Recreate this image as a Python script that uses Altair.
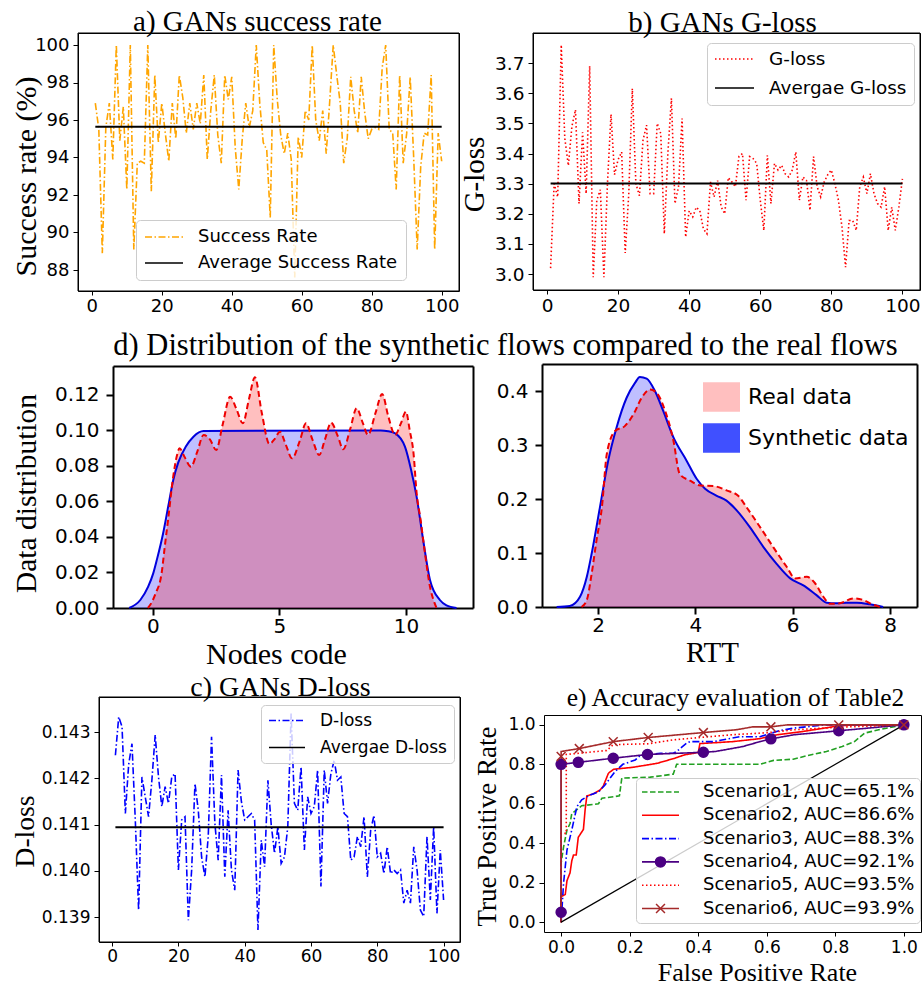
import altair as alt
import pandas as pd

W, H = 924, 985
SERIF = "Liberation Serif"
SANS = "DejaVu Sans"

# ---------------------------------------------------------------- data
epochs = list(range(1, 101))

success_rate = [
    96.9, 95.5, 88.9, 95.6, 96.9, 93.9, 100, 94.9, 96.7, 92.3,
    100, 89.1, 93.7, 93.8, 93.7, 100, 92.2, 98.4, 94.8, 96.9,
    95.3, 93.8, 96.9, 95.0, 98.4, 97.2, 95.3, 96.9, 95.5, 96.9,
    95.8, 98.4, 93.9, 96.5, 98.4, 95.2, 93.7, 98.4, 97.1, 98.3,
    94.5, 92.3, 95.0, 96.9, 95.6, 96.5, 100, 96.9, 94.8, 94.4,
    90.8, 100, 97.1, 95.2, 94.2, 95.3, 93.9, 87.6, 95.1, 94.0,
    96.5, 96.0, 100, 96.0, 94.9, 96.5, 94.2, 97.0, 100, 98.4,
    96.9, 93.7, 95.0, 98.3, 96.5, 95.3, 98.3, 96.4, 95.0, 95.5,
    95.6, 95.5, 98.8, 100, 95.5, 95.3, 92.3, 98.4, 93.7, 95.3,
    98.3, 94.0, 89.1, 93.5, 95.3, 95.2, 98.4, 89.1, 95.3, 93.8,
]

g_loss = [
    3.02, 3.30, 3.256, 3.76, 3.45, 3.36, 3.49, 3.545, 3.234, 3.47,
    3.267, 3.69, 2.99, 3.245, 3.28, 2.99, 3.30, 3.53, 3.33, 3.38,
    3.405, 3.07, 3.267, 3.615, 3.30, 3.26, 3.444, 3.494, 3.267, 3.267,
    3.50, 3.466, 3.134, 3.40, 3.583, 3.234, 3.29, 3.516, 3.123, 3.21,
    3.19, 3.222, 3.21, 3.15, 3.134, 3.306, 3.256, 3.31, 3.223, 3.20,
    3.32, 3.306, 3.29, 3.39, 3.40, 3.245, 3.39, 3.383, 3.367, 3.245,
    3.145, 3.394, 3.234, 3.367, 3.345, 3.361, 3.333, 3.322, 3.345, 3.405,
    3.245, 3.322, 3.311, 3.212, 3.39, 3.29, 3.256, 3.306, 3.33, 3.345,
    3.30, 3.245, 3.156, 3.023, 3.178, 3.178, 3.145, 3.29, 3.322, 3.267,
    3.333, 3.267, 3.234, 3.222, 3.29, 3.145, 3.222, 3.145, 3.222, 3.316,
]

d_loss = [
    0.14250, 0.14333, 0.14312, 0.14124, 0.14230, 0.14275, 0.14110, 0.13915, 0.14203, 0.14160,
    0.14117, 0.14196, 0.14294, 0.14203, 0.14139, 0.14182, 0.14146, 0.14203, 0.14210, 0.14002,
    0.14110, 0.14117, 0.13893, 0.14002, 0.14189, 0.14131, 0.14030, 0.13987, 0.14074, 0.14290,
    0.14103, 0.14023, 0.14207, 0.13987, 0.14131, 0.14002, 0.13958, 0.14218, 0.14150, 0.14110,
    0.14117, 0.14124, 0.14110, 0.13872, 0.14066, 0.14009, 0.14196, 0.14100, 0.14038, 0.14095,
    0.14016, 0.14030, 0.14095, 0.14340, 0.14146, 0.14131, 0.14225, 0.14045, 0.14160, 0.14124,
    0.14139, 0.14218, 0.13966, 0.14218, 0.14146, 0.14210, 0.14239, 0.14196, 0.14203, 0.14124,
    0.14117, 0.14023, 0.14030, 0.14074, 0.14052, 0.14117, 0.13987, 0.14088, 0.14120, 0.14030,
    0.14038, 0.13994, 0.14052, 0.13994, 0.14002, 0.13994, 0.14002, 0.13930, 0.13958, 0.13930,
    0.14052, 0.14002, 0.13915, 0.13901, 0.14074, 0.13937, 0.14095, 0.13908, 0.14045, 0.13937,
]

# density of node codes
nodes_real_x = [-0.2, -0.1, 0.1, 0.34, 0.47, 0.6, 0.8, 0.95, 1.05, 1.25,
                1.5, 1.75, 2.0, 2.25, 2.5, 2.75, 3.05, 3.3, 3.55, 3.8,
                4.03, 4.3, 4.6, 4.8, 5.02, 5.25, 5.5, 5.8, 6.05, 6.3,
                6.57, 6.8, 7.04, 7.3, 7.52, 7.8, 8.05, 8.3, 8.5, 8.8,
                9.06, 9.3, 9.57, 9.8, 10.0, 10.15, 10.3, 10.42, 10.58, 10.75,
                10.95, 11.1, 11.21]
nodes_real_y = [0, 0.002, 0.008, 0.0195, 0.035, 0.05, 0.074, 0.086, 0.09, 0.085,
                0.0796, 0.088, 0.0975, 0.095, 0.089, 0.103, 0.119, 0.112, 0.104, 0.118,
                0.13, 0.11, 0.0924, 0.095, 0.0993, 0.092, 0.0843, 0.094, 0.104, 0.095,
                0.0862, 0.095, 0.1044, 0.097, 0.0894, 0.101, 0.1125, 0.104, 0.0975, 0.11,
                0.1206, 0.108, 0.0975, 0.104, 0.1106, 0.1, 0.087, 0.065, 0.0496, 0.031,
                0.012, 0.004, 0]
nodes_syn_x = [-0.94, -0.5, -0.19, 0.01, 0.15, 0.4, 0.6, 0.8, 1.0, 1.3, 1.6, 2.0,
               9.0, 9.3, 9.57, 9.96, 10.2, 10.42, 10.68, 10.95, 11.34, 11.6, 12.0]
nodes_syn_y = [0, 0.0045, 0.012, 0.0195, 0.027, 0.042, 0.057, 0.072, 0.082, 0.091, 0.0965, 0.0997,
               0.1, 0.0995, 0.0984, 0.0909, 0.078, 0.0627, 0.0383, 0.0158, 0.0045, 0.0015, 0]

# density of round-trip times
rtt_real_x = [1.66, 1.77, 1.87, 1.97, 2.08, 2.18, 2.35, 2.55, 2.73, 2.90,
              3.07, 3.20, 3.38, 3.55, 3.68, 3.89, 4.10, 4.37, 4.64, 4.88,
              5.05, 5.33, 5.60, 5.88, 6.05, 6.29, 6.46, 6.63, 6.77, 6.97,
              7.25, 7.45, 7.66, 7.80]
rtt_real_y = [0, 0.013, 0.062, 0.124, 0.185, 0.283, 0.326, 0.335, 0.357, 0.388,
              0.403, 0.397, 0.363, 0.308, 0.246, 0.234, 0.225, 0.224, 0.216, 0.206,
              0.185, 0.148, 0.111, 0.074, 0.053, 0.056, 0.044, 0.019, 0.006, 0.007,
              0.016, 0.013, 0.004, 0]
rtt_syn_x = [1.15, 1.42, 1.63, 1.77, 1.87, 2.04, 2.21, 2.38, 2.59, 2.76,
             2.86, 3.00, 3.17, 3.34, 3.55, 3.82, 4.03, 4.20, 4.44, 4.64,
             4.85, 5.12, 5.40, 5.67, 5.95, 6.22, 6.49, 6.70, 6.90, 7.10,
             7.32, 7.59, 7.86]
rtt_syn_y = [0, 0.002, 0.019, 0.056, 0.099, 0.185, 0.271, 0.332, 0.388, 0.415,
             0.426, 0.423, 0.40, 0.363, 0.314, 0.271, 0.237, 0.219, 0.206, 0.197,
             0.179, 0.148, 0.111, 0.08, 0.053, 0.04, 0.022, 0.008, 0.007, 0.008,
             0.008, 0.005, 0]

# ROC curves
roc_names = ["Scenario1, AUC=65.1%", "Scenario2, AUC=86.6%", "Scenario3, AUC=88.3%",
             "Scenario4, AUC=92.1%", "Scenario5, AUC=93.5%", "Scenario6, AUC=93.9%"]
s1_fpr = [0, 0, 0.007, 0.017, 0.026, 0.031, 0.046, 0.06, 0.109, 0.119, 0.17, 0.177, 0.26,
          0.327, 0.337, 0.58, 0.62, 0.677, 0.716, 0.774, 0.82, 0.856, 0.885, 0.934, 1.0]
s1_tpr = [0, 0.30, 0.38, 0.467, 0.50, 0.55, 0.57, 0.59, 0.60, 0.628, 0.64, 0.73, 0.735,
          0.75, 0.80, 0.80, 0.82, 0.826, 0.843, 0.865, 0.89, 0.915, 0.958, 0.978, 1.0]
s2_fpr = [0, 0, 0.012, 0.017, 0.026, 0.031, 0.036, 0.044, 0.05, 0.065, 0.07, 0.075, 0.094,
          0.114, 0.123, 0.138, 0.153, 0.21, 0.28, 0.33, 0.36, 0.40, 0.405, 0.50, 0.58, 0.63,
          0.70, 0.81, 0.86, 1.0]
s2_tpr = [0, 0.13, 0.14, 0.21, 0.25, 0.31, 0.34, 0.34, 0.43, 0.47, 0.57, 0.64, 0.65,
          0.67, 0.69, 0.755, 0.775, 0.785, 0.805, 0.83, 0.848, 0.86, 0.905, 0.915, 0.93, 0.95,
          0.965, 0.995, 1.0, 1.0]
s3_fpr = [0, 0.007, 0.017, 0.031, 0.046, 0.06, 0.085, 0.109, 0.128, 0.157, 0.18, 0.216, 0.23,
          0.29, 0.327, 0.337, 0.366, 0.376, 0.444, 0.521, 0.58, 0.638, 0.677, 0.77, 1.0]
s3_tpr = [0, 0.196, 0.365, 0.467, 0.585, 0.62, 0.645, 0.66, 0.695, 0.763, 0.80, 0.822, 0.843,
          0.856, 0.856, 0.865, 0.907, 0.915, 0.915, 0.94, 0.94, 0.971, 0.983, 1.0, 1.0]
s4_fpr = [0, 0, 0, 0.05, 0.152, 0.252, 0.415, 0.45, 0.53, 0.58, 0.612, 0.68, 0.81, 1.0]
s4_tpr = [0, 0.05, 0.80, 0.81, 0.831, 0.85, 0.861, 0.865, 0.89, 0.915, 0.929, 0.95, 0.97, 1.0]
s5_fpr = [0, 0, 0.015, 0.015, 0.133, 0.152, 0.254, 0.327, 0.415, 0.50, 0.60, 0.68, 0.81, 0.92, 1.0]
s5_tpr = [0, 0.45, 0.45, 0.85, 0.87, 0.90, 0.904, 0.924, 0.9375, 0.95, 0.96, 0.975, 0.988, 0.995, 1.0]
s6_fpr = [0, 0, 0.053, 0.152, 0.254, 0.415, 0.51, 0.56, 0.612, 0.66, 1.0]
s6_tpr = [0, 0.865, 0.88, 0.915, 0.936, 0.961, 0.975, 0.99, 0.99, 1.0, 1.0]
s4_mark_fpr = [0, 0, 0.05, 0.152, 0.252, 0.415, 0.612, 0.81, 1.0]
s4_mark_tpr = [0.05, 0.80, 0.81, 0.831, 0.85, 0.861, 0.929, 0.97, 1.0]
s6_mark_fpr = [0, 0.053, 0.152, 0.254, 0.415, 0.612, 0.81, 1.0]
s6_mark_tpr = [0.84, 0.88, 0.915, 0.936, 0.961, 0.99, 1.0, 1.0]
chance_fpr = [0, 1]
chance_tpr = [0, 1]

# ---------------------------------------------------------------- layout
# plot rectangles: (left, right, top, bottom) in pixels
BOX_A = (78, 459, 33, 291)
BOX_B = (533, 920, 33, 290)
BOX_DL = (113, 473, 366, 608)
BOX_DR = (542, 917, 364, 607)
BOX_C = (99, 460, 697, 942)
BOX_E = (544, 921, 715, 932)
EPOCH_DOMAIN = (-3.95, 104.95)

SOLID = [1, 0]
DASHDOT = [7, 2.5, 1.5, 2.5]
DOTTED = [1.5, 2.5]
DASHED = [5.5, 2.5]

KEY_Z = 6


def x_scale(box, lo, hi):
    return alt.Scale(domain=[lo, hi], range=[box[0], box[1]], zero=False, nice=False)


def y_scale(box, lo, hi):
    return alt.Scale(domain=[lo, hi], range=[box[3], box[2]], zero=False, nice=False)


def tick_axis(orient, box, values, fmt, size, weight=1.0, tick=5, pad=4,
              title="", tx=0, ty=0, tsize=28, z=0):
    """Axis with ticks and labels."""
    offset = box[3] - H if orient == "bottom" else -box[0]
    kw = dict(orient=orient, offset=offset, values=values, format=fmt,
              domain=True, ticks=True, labels=True, zindex=z,
              labelFont=SANS, labelFontSize=size, labelColor="black", labelPadding=pad,
              labelFlush=False, labelOverlap=False,
              tickSize=tick, tickWidth=weight, tickColor="black",
              domainColor="black", domainWidth=weight, grid=False)
    if title:
        kw.update(title=title, titleFont=SERIF, titleFontSize=tsize, titleFontWeight="normal",
                  titleColor="black", titleX=tx, titleY=ty, titleAlign="center",
                  titleBaseline="alphabetic")
        if orient == "left":
            kw["titleAngle"] = 270
    else:
        kw["title"] = ""
    return alt.Axis(**kw)


def frame_axis(orient, box, weight=1.0, title="", tx=0, ty=0, tsize=28, z=0):
    """Bare top/right spine; the top one can carry the panel title."""
    offset = -box[2] if orient == "top" else box[1] - W
    kw = dict(orient=orient, offset=offset, domain=True, labels=False, ticks=False,
              zindex=z, domainColor="black", domainWidth=weight, grid=False)
    if title:
        kw.update(title=title, titleFont=SERIF, titleFontSize=tsize, titleFontWeight="normal",
                  titleColor="black", titleX=tx, titleY=ty, titleAlign="center",
                  titleBaseline="alphabetic")
    else:
        kw["title"] = ""
    return alt.Axis(**kw)


def line_legend(lx, ly, size, sym_len, label_offset, pad, clip, row_pad):
    return alt.Legend(title=None, orient="none", legendX=lx, legendY=ly,
                      symbolType="stroke", symbolSize=sym_len ** 2, symbolStrokeWidth=1.6,
                      labelFont=SANS, labelFontSize=size, labelColor="black",
                      labelOffset=label_offset, labelLimit=600, padding=pad,
                      clipHeight=clip, rowPadding=row_pad,
                      fillColor="rgba(255,255,255,0.8)", strokeColor="#cccccc",
                      cornerRadius=4, zindex=KEY_Z)


def training_panel(box, values, ydom, yticks, yfmt, size, names, colour, dash,
                   legend, top_title, left_title):
    mean_value = sum(values) / len(values)
    df = pd.DataFrame({"epoch": epochs, "value": values, "series": names[0]})
    avg_df = pd.DataFrame({"epoch": [epochs[0], epochs[-1]],
                           "value": [mean_value, mean_value]})
    xs = x_scale(box, *EPOCH_DOMAIN)
    ysc = y_scale(box, *ydom)
    # the key lists both the series and its average (solid black)
    col = alt.Scale(domain=names, range=[colour, "black"])
    dsh = alt.Scale(domain=names, range=[dash, SOLID])
    line = alt.Chart(df).mark_line(strokeWidth=1.6).encode(
        x=alt.X("epoch:Q", scale=xs,
                axis=tick_axis("bottom", box, [0, 20, 40, 60, 80, 100], "d", size,
                               tick=4, pad=2, z=1)),
        y=alt.Y("value:Q", scale=ysc,
                axis=tick_axis("left", box, yticks, yfmt, size, z=1, **left_title)),
        color=alt.Color("series:N", scale=col, legend=legend),
        strokeDash=alt.StrokeDash("series:N", scale=dsh, legend=legend),
    )
    avg = alt.Chart(avg_df).mark_line(color="black", strokeWidth=2).encode(
        x=alt.X("epoch:Q", scale=xs, axis=frame_axis("top", box, z=1, **top_title)),
        y=alt.Y("value:Q", scale=ysc, axis=frame_axis("right", box, z=1)),
    )
    # outline of the plotting area, spanning the full scale domains
    outline = alt.Chart(avg_df).transform_aggregate(
        n="count()"
    ).mark_rect(fillOpacity=0, stroke="black", strokeWidth=1).encode(
        x=alt.datum(EPOCH_DOMAIN[0], scale=xs, axis=None), x2=alt.datum(EPOCH_DOMAIN[1]),
        y=alt.datum(ydom[0], scale=ysc, axis=None), y2=alt.datum(ydom[1]),
    )
    return alt.layer(line, avg, outline)


# ---------------------------------------------------------------- a) success rate
panel_a = training_panel(
    BOX_A, success_rate, (86.88, 100.64), [88, 90, 92, 94, 96, 98, 100], "d", 18,
    ["Success Rate", "Average Success Rate"], "orange", DASHDOT,
    line_legend(136, 220, 18, 38, 14, 8, 18, 8),
    dict(title="a) GANs success rate", tx=257, ty=-3, tsize=29),
    dict(title="Success rate (%)", tx=-43, ty=176, tsize=30),
)

# ---------------------------------------------------------------- b) G-loss
panel_b = training_panel(
    BOX_B, g_loss, (2.9475, 3.7995), [3.0, 3.1, 3.2, 3.3, 3.4, 3.5, 3.6, 3.7], ".1f", 18.5,
    ["G-loss", "Avergae G-loss"], "red", DOTTED,
    line_legend(707, 43, 18.4, 39, 14, 7, 18, 10),
    dict(title="b) GANs G-loss", tx=722, ty=-2, tsize=29),
    dict(title="G-loss", tx=-50, ty=174, tsize=29),
)

# ---------------------------------------------------------------- c) D-loss
panel_c = training_panel(
    BOX_C, d_loss, (0.13846, 0.14376), [0.139, 0.140, 0.141, 0.142, 0.143], ".3f", 17,
    ["D-loss", "Avergae D-loss"], "blue", DASHDOT,
    line_legend(261, 705, 17, 36, 14, 7, 17, 9),
    dict(title="c) GANs D-loss", tx=280, ty=-2, tsize=28),
    dict(title="D-loss", tx=-66, ty=831, tsize=27.5),
)


# ---------------------------------------------------------------- d) distributions
def dist_panel(box, syn_x, syn_y, real_x, real_y, xdom, ydom, axes, extra=None):
    xs = x_scale(box, *xdom)
    ysc = y_scale(box, *ydom)
    syn = pd.DataFrame({"x": syn_x, "y": syn_y})
    real = pd.DataFrame({"x": real_x, "y": real_y})
    syn_area = alt.Chart(syn).mark_area(color="blue", opacity=0.25,
                                        interpolate="monotone").encode(
        x=alt.X("x:Q", scale=xs, axis=axes["bottom"]),
        y=alt.Y("y:Q", scale=ysc, axis=axes["left"], stack=None),
        y2=alt.datum(0),
    )
    real_area = alt.Chart(real).mark_area(color="red", opacity=0.25,
                                          interpolate="monotone").encode(
        x=alt.X("x:Q", scale=xs, axis=axes["top"]),
        y=alt.Y("y:Q", scale=ysc, axis=axes["right"], stack=None),
        y2=alt.datum(0),
    )
    syn_line = alt.Chart(syn).mark_line(interpolate="monotone", color="#0000dd",
                                        strokeWidth=2).encode(
        x=alt.X("x:Q", scale=xs, axis=None),
        y=alt.Y("y:Q", scale=ysc, axis=None),
    )
    real_line = alt.Chart(real).mark_line(interpolate="monotone", color="#ee0000",
                                          strokeWidth=2, strokeDash=[6, 3.5]).encode(
        x=alt.X("x:Q", scale=xs, axis=None),
        y=alt.Y("y:Q", scale=ysc, axis=None),
    )
    layers = [syn_area, real_area, syn_line, real_line]
    if extra is not None:
        layers.append(extra)
    return alt.layer(*layers)


D_LEFT = dict(size=20, weight=2, tick=7, pad=7)
D_BOTTOM = dict(size=20, weight=2, tick=7, pad=1)
panel_dl = dist_panel(
    BOX_DL, nodes_syn_x, nodes_syn_y, nodes_real_x, nodes_real_y,
    (-1.58, 12.65), (0, 0.1363),
    {
        "bottom": tick_axis("bottom", BOX_DL, [0, 5, 10], "d",
                            title="Nodes code", tx=276, ty=55, tsize=30, **D_BOTTOM),
        "left": tick_axis("left", BOX_DL, [0, 0.02, 0.04, 0.06, 0.08, 0.10, 0.12], ".2f",
                          title="Data distribution", tx=-78, ty=493, tsize=29.5, **D_LEFT),
        "top": frame_axis("top", BOX_DL, weight=2,
                          title="d) Distribution of the synthetic flows compared to the real flows",
                          tx=505, ty=-12, tsize=30.5),
        "right": frame_axis("right", BOX_DL, weight=2),
    },
)

legend_names = ["Real data", "Synthetic data"]
dist_key = alt.Chart(pd.DataFrame({"series": legend_names})).transform_filter(
    "false"
).mark_square().encode(
    fill=alt.Fill("series:N",
                  scale=alt.Scale(domain=legend_names, range=["#ffbfbf", "#4050ff"]),
                  legend=alt.Legend(title=None, orient="none", legendX=703, legendY=382,
                                    symbolType="M-1,-0.8H1V0.8H-1Z", symbolSize=37 ** 2,
                                    symbolStrokeWidth=0, symbolOpacity=1,
                                    labelFont=SANS, labelFontSize=22,
                                    labelColor="black", labelOffset=8, labelLimit=600,
                                    padding=0, clipHeight=30, rowPadding=11, zindex=KEY_Z)),
)

panel_dr = dist_panel(
    BOX_DR, rtt_syn_x, rtt_syn_y, rtt_real_x, rtt_real_y,
    (0.849, 8.555), (0, 0.45),
    {
        "bottom": tick_axis("bottom", BOX_DR, [2, 4, 6, 8], "d",
                            title="RTT", tx=712, ty=54, tsize=29, **D_BOTTOM),
        "left": tick_axis("left", BOX_DR, [0, 0.1, 0.2, 0.3, 0.4], ".1f", **D_LEFT),
        "top": frame_axis("top", BOX_DR, weight=2),
        "right": frame_axis("right", BOX_DR, weight=2),
    },
    extra=dist_key,
).resolve_legend(fill="independent")

# ---------------------------------------------------------------- e) ROC curves
roc_fprs = [s1_fpr, s2_fpr, s3_fpr, s4_fpr, s5_fpr, s6_fpr]
roc_tprs = [s1_tpr, s2_tpr, s3_tpr, s4_tpr, s5_tpr, s6_tpr]
roc_rows = []
for name, fpr, tpr in zip(roc_names, roc_fprs, roc_tprs):
    for k, (f, t) in enumerate(zip(fpr, tpr)):
        roc_rows.append({"series": name, "fpr": f, "tpr": t, "ord": k})
roc_df = pd.DataFrame(roc_rows)

mark_rows = [{"series": roc_names[3], "fpr": f, "tpr": t} for f, t in zip(s4_mark_fpr, s4_mark_tpr)]
mark_rows += [{"series": roc_names[5], "fpr": f, "tpr": t} for f, t in zip(s6_mark_fpr, s6_mark_tpr)]
mark_df = pd.DataFrame(mark_rows)

chance_df = pd.DataFrame({"fpr": chance_fpr, "tpr": chance_tpr})

ex = x_scale(BOX_E, -0.05, 1.05)
ey = y_scale(BOX_E, -0.05, 1.05)
roc_colours = ["#22a022", "red", "blue", "indigo", "red", "brown"]
roc_dashes = [DASHED, SOLID, DASHDOT, SOLID, DOTTED, SOLID]
E_TICKS = [0, 0.2, 0.4, 0.6, 0.8, 1.0]
E_SYM = 37

roc_legend = line_legend(636, 778, 18, E_SYM, 23, 5, 18, 5.3)
roc_lines = alt.Chart(roc_df).mark_line(strokeWidth=1.6).encode(
    x=alt.X("fpr:Q", scale=ex,
            axis=tick_axis("bottom", BOX_E, E_TICKS, ".1f", 17, tick=4, pad=3,
                           title="False Positive Rate", tx=757, ty=48, tsize=26)),
    y=alt.Y("tpr:Q", scale=ey,
            axis=tick_axis("left", BOX_E, E_TICKS, ".1f", 17,
                           title="True Positive Rate", tx=-49, ty=826, tsize=27)),
    color=alt.Color("series:N", scale=alt.Scale(domain=roc_names, range=roc_colours),
                    legend=roc_legend),
    strokeDash=alt.StrokeDash("series:N", scale=alt.Scale(domain=roc_names, range=roc_dashes),
                              legend=roc_legend),
    order=alt.Order("ord:Q"),
)

chance = alt.Chart(chance_df).mark_line(color="black", strokeWidth=1.2).encode(
    x=alt.X("fpr:Q", scale=ex,
            axis=frame_axis("top", BOX_E, title="e) Accuracy evaluation of Table2",
                            tx=735, ty=-10, tsize=25.5)),
    y=alt.Y("tpr:Q", scale=ey, axis=frame_axis("right", BOX_E)),
)

NO_MARK = "M0,0"
CIRCLE = "M0.27,0A0.27,0.27,0,1,1,-0.27,0A0.27,0.27,0,1,1,0.27,0Z"
XMARK = "M-0.24,-0.24L0.24,0.24M-0.24,0.24L0.24,-0.24"
marker_legend = alt.Legend(title=None, orient="none", legendX=636, legendY=778,
                           symbolSize=E_SYM ** 2, symbolStrokeWidth=1.5,
                           labelFont=SANS, labelFontSize=18, labelOpacity=0,
                           labelOffset=23, labelLimit=600, padding=5,
                           clipHeight=18, rowPadding=5.3, zindex=KEY_Z + 1)
markers = alt.Chart(mark_df).mark_point(size=E_SYM ** 2, strokeWidth=1.5, opacity=1).encode(
    x=alt.X("fpr:Q", scale=ex, axis=None),
    y=alt.Y("tpr:Q", scale=ey, axis=None),
    shape=alt.Shape("series:N", scale=alt.Scale(
        domain=roc_names, range=[NO_MARK, NO_MARK, NO_MARK, CIRCLE, NO_MARK, XMARK]),
        legend=marker_legend),
    fill=alt.Fill("series:N", scale=alt.Scale(
        domain=roc_names,
        range=["transparent", "transparent", "transparent", "indigo", "transparent", "transparent"]),
        legend=marker_legend),
    stroke=alt.Stroke("series:N", scale=alt.Scale(
        domain=roc_names,
        range=["transparent", "transparent", "transparent", "indigo", "transparent", "brown"]),
        legend=marker_legend),
)

panel_e = alt.layer(roc_lines, chance, markers).resolve_legend(
    shape="independent", fill="independent", stroke="independent"
)

# ---------------------------------------------------------------- figure
figure = alt.layer(panel_a, panel_b, panel_dl, panel_dr, panel_c, panel_e).resolve_scale(
    x="independent", y="independent", color="independent", strokeDash="independent",
    fill="independent", stroke="independent", shape="independent",
).resolve_axis(
    x="independent", y="independent",
).resolve_legend(
    color="independent", strokeDash="independent", fill="independent",
    stroke="independent", shape="independent",
).properties(
    width=W, height=H, padding=0, background="white",
    autosize=alt.AutoSizeParams(type="none"),
).configure_view(strokeWidth=0)

figure.save("out.html", embed_options={"renderer": "svg", "actions": False})
